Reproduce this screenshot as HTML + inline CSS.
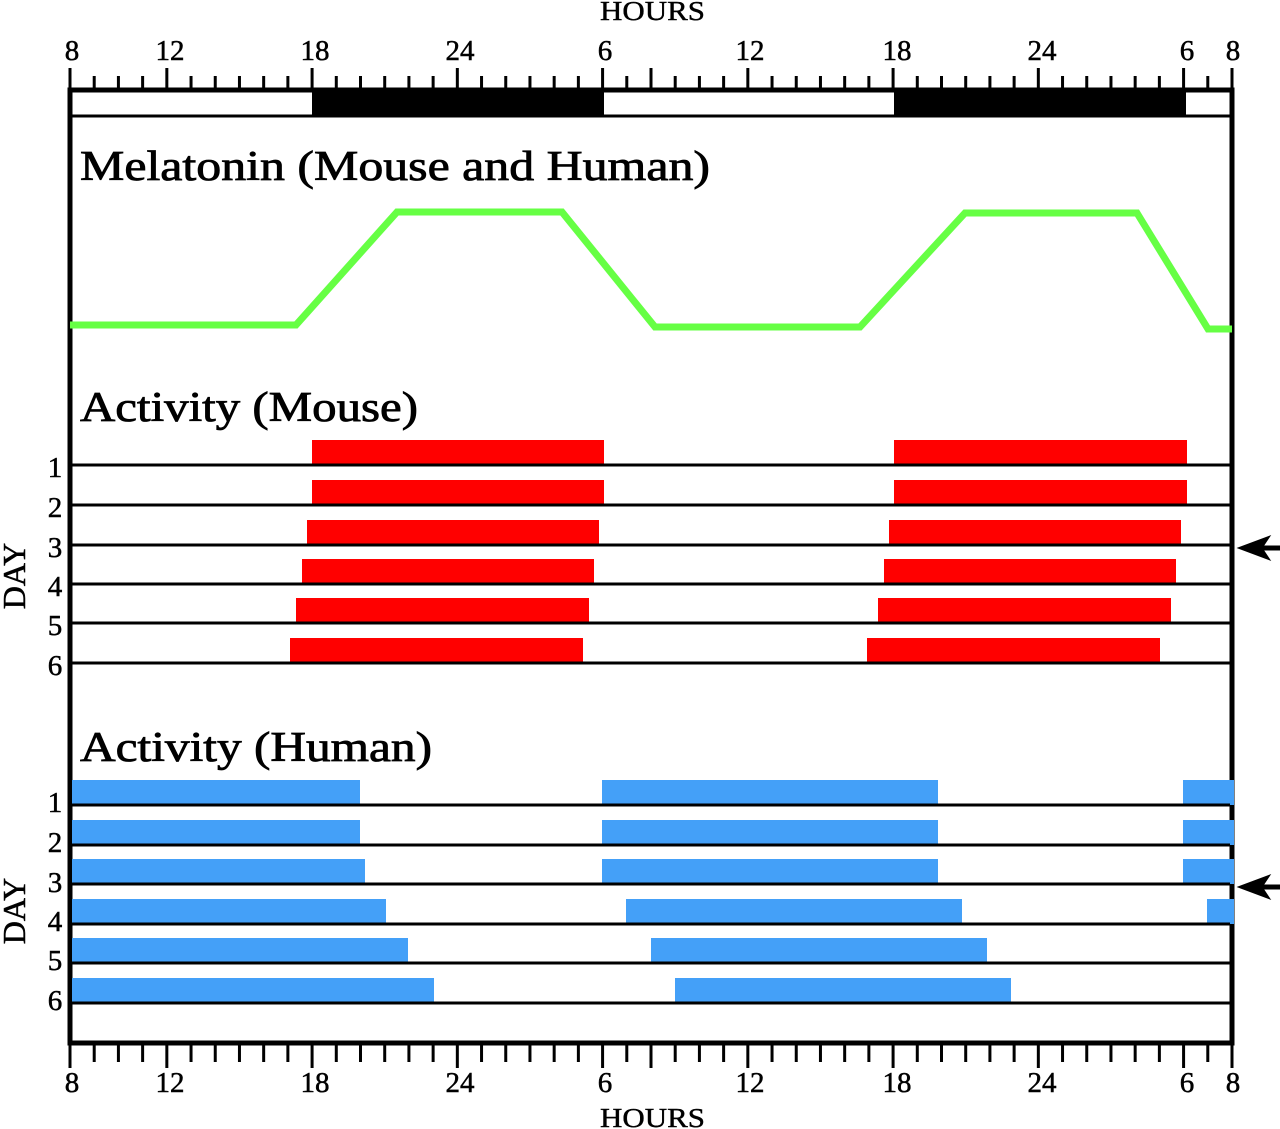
<!DOCTYPE html>
<html><head><meta charset="utf-8"><style>
html,body{margin:0;padding:0;background:#fff;}
svg{display:block;font-family:"Liberation Serif",serif;}
</style></head><body>
<svg id="s" width="1280" height="1129" viewBox="0 0 1280 1129" xmlns="http://www.w3.org/2000/svg">
<rect width="1280" height="1129" fill="#fff"/>
<text x="600" y="20" font-size="27" textLength="105" lengthAdjust="spacingAndGlyphs" stroke="#000" stroke-width="0.4">HOURS</text>
<text x="600" y="1127" font-size="27" textLength="105" lengthAdjust="spacingAndGlyphs" stroke="#000" stroke-width="0.4">HOURS</text>
<rect x="312" y="90" width="292" height="26" fill="#000"/>
<rect x="894" y="90" width="292" height="26" fill="#000"/>
<line x1="68" y1="116" x2="1234" y2="116" stroke="#000" stroke-width="3"/>
<rect x="70" y="90" width="1162" height="953" fill="none" stroke="#000" stroke-width="5"/>
<g id="ticks" stroke="#000" stroke-width="3"></g>
<g font-size="29" text-anchor="middle" stroke="#000" stroke-width="0.5">
<text x="72" y="60">8</text><text x="170" y="60">12</text><text x="315" y="60">18</text><text x="460" y="60">24</text><text x="605" y="60">6</text><text x="750" y="60">12</text><text x="897" y="60">18</text><text x="1042" y="60">24</text><text x="1187" y="60">6</text><text x="1233" y="60">8</text>
<text x="72" y="1092">8</text><text x="170" y="1092">12</text><text x="315" y="1092">18</text><text x="460" y="1092">24</text><text x="605" y="1092">6</text><text x="750" y="1092">12</text><text x="897" y="1092">18</text><text x="1042" y="1092">24</text><text x="1187" y="1092">6</text><text x="1233" y="1092">8</text>
</g>
<g font-size="42" stroke="#000" stroke-width="0.8" lengthAdjust="spacingAndGlyphs">
<text x="80" y="180" textLength="630" lengthAdjust="spacingAndGlyphs">Melatonin (Mouse and Human)</text>
<text x="80" y="421" textLength="338" lengthAdjust="spacingAndGlyphs">Activity (Mouse)</text>
<text x="80" y="761" textLength="352" lengthAdjust="spacingAndGlyphs">Activity (Human)</text>
</g>
<polyline points="70,325 296,325 397,212 562,212 655,327 860,327 965,213 1137,213 1208,329 1232,329" fill="none" stroke="#66ff44" stroke-width="7"/>
<g fill="#ff0000">
<rect x="312" y="440" width="292" height="25"/><rect x="894" y="440" width="293" height="25"/>
<rect x="312" y="480" width="292" height="25"/><rect x="894" y="480" width="293" height="25"/>
<rect x="307" y="520" width="292" height="25"/><rect x="889" y="520" width="292" height="25"/>
<rect x="302" y="559" width="292" height="25"/><rect x="884" y="559" width="292" height="25"/>
<rect x="296" y="598" width="293" height="25"/><rect x="878" y="598" width="293" height="25"/>
<rect x="290" y="638" width="293" height="25"/><rect x="867" y="638" width="293" height="25"/>
</g>
<g fill="#44a0f8">
<rect x="72" y="780" width="288" height="25"/><rect x="602" y="780" width="336" height="25"/><rect x="1183" y="780" width="51" height="25"/>
<rect x="72" y="820" width="288" height="25"/><rect x="602" y="820" width="336" height="25"/><rect x="1183" y="820" width="51" height="25"/>
<rect x="72" y="859" width="293" height="25"/><rect x="602" y="859" width="336" height="25"/><rect x="1183" y="859" width="51" height="25"/>
<rect x="72" y="899" width="314" height="25"/><rect x="626" y="899" width="336" height="25"/><rect x="1207" y="899" width="27" height="25"/>
<rect x="72" y="938" width="336" height="25"/><rect x="651" y="938" width="336" height="25"/>
<rect x="72" y="978" width="362" height="25"/><rect x="675" y="978" width="336" height="25"/>
</g>
<g stroke="#000" stroke-width="3">
<line x1="72" x2="1230" y1="465" y2="465"/><line x1="72" x2="1230" y1="505" y2="505"/><line x1="72" x2="1230" y1="545" y2="545"/><line x1="72" x2="1230" y1="584" y2="584"/><line x1="72" x2="1230" y1="623" y2="623"/><line x1="72" x2="1230" y1="663" y2="663"/>
<line x1="72" x2="1230" y1="805" y2="805"/><line x1="72" x2="1230" y1="845" y2="845"/><line x1="72" x2="1230" y1="884" y2="884"/><line x1="72" x2="1230" y1="924" y2="924"/><line x1="72" x2="1230" y1="963" y2="963"/><line x1="72" x2="1230" y1="1003" y2="1003"/>
</g>
<g font-size="29" text-anchor="middle" stroke="#000" stroke-width="0.5">
<text x="55" y="477">1</text><text x="55" y="517">2</text><text x="55" y="557">3</text><text x="55" y="596">4</text><text x="55" y="635">5</text><text x="55" y="675">6</text>
<text x="55" y="812">1</text><text x="55" y="852">2</text><text x="55" y="892">3</text><text x="55" y="931">4</text><text x="55" y="970">5</text><text x="55" y="1010">6</text>
<text transform="translate(25,576) rotate(-90)" font-size="32">DAY</text>
<text transform="translate(25,911) rotate(-90)" font-size="32">DAY</text>
</g>
<g fill="#000" stroke="#000">
<line x1="1252" y1="548" x2="1280" y2="548" stroke-width="5"/>
<polygon points="1238,548 1270,536 1262,548 1270,560"/>
<line x1="1252" y1="887" x2="1280" y2="887" stroke-width="5"/>
<polygon points="1238,887 1270,875 1262,887 1270,899"/>
</g>
</svg>
<script>
var g=document.getElementById('ticks'),s='';
for(var h=0;h<=48;h++){var x=70+h*1162/48;var hr=(8+h)%24;var maj=[8,12,18,0,6].indexOf(hr)>=0;
s+='<line x1="'+x+'" x2="'+x+'" y1="'+(maj?68:76)+'" y2="90"/>';
s+='<line x1="'+x+'" x2="'+x+'" y1="1043" y2="'+(maj?1068:1062)+'"/>';}
g.innerHTML=s;
</script>
</body></html>
